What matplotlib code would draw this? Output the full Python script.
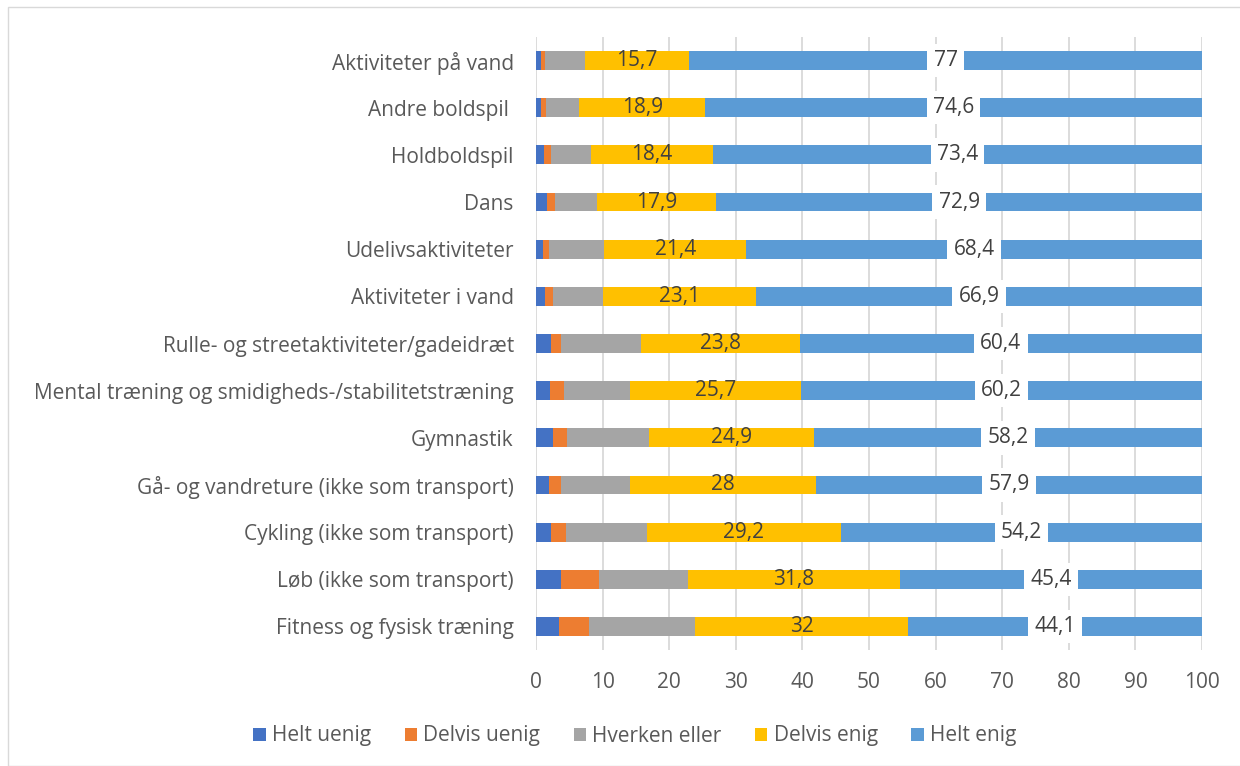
import numpy as np
import matplotlib
matplotlib.use('Agg')
import matplotlib.pyplot as plt
from matplotlib.patches import Rectangle

plt.rcParams['font.family'] = ['Open Sans', 'DejaVu Sans']

categories = [
    'Aktiviteter på vand',
    'Andre boldspil ',
    'Holdboldspil',
    'Dans',
    'Udelivsaktiviteter',
    'Aktiviteter i vand',
    'Rulle- og streetaktiviteter/gadeidræt',
    'Mental træning og smidigheds-/stabilitetstræning',
    'Gymnastik',
    'Gå- og vandreture (ikke som transport)',
    'Cykling (ikke som transport)',
    'Løb (ikke som transport)',
    'Fitness og fysisk træning',
]

helt_uenig = [0.8, 0.8, 1.2, 1.6, 1.0, 1.3, 2.3, 2.1, 2.6, 2.0, 2.3, 3.7, 3.4]
delvis_uenig = [0.6, 0.7, 1.1, 1.2, 1.0, 1.2, 1.5, 2.1, 2.1, 1.8, 2.2, 5.7, 4.6]
hverken = [5.9, 5.0, 5.9, 6.4, 8.2, 7.5, 12.0, 9.9, 12.2, 10.3, 12.1, 13.4, 15.9]
delvis_enig = [15.7, 18.9, 18.4, 17.9, 21.4, 23.1, 23.8, 25.7, 24.9, 28, 29.2, 31.8, 32]
helt_enig = [77, 74.6, 73.4, 72.9, 68.4, 66.9, 60.4, 60.2, 58.2, 57.9, 54.2, 45.4, 44.1]

series_names = ['Helt uenig', 'Delvis uenig', 'Hverken eller', 'Delvis enig', 'Helt enig']
series = [helt_uenig, delvis_uenig, hverken, delvis_enig, helt_enig]
colors = ['#4472c4', '#ed7d31', '#a5a5a5', '#ffc000', '#5b9bd5']

fig = plt.figure(figsize=(12.4, 7.66), dpi=100)
fig.patches.append(Rectangle((8 / 1240, 0), 1.0, 1 - 7 / 766, transform=fig.transFigure,
                             fill=False, edgecolor='#d9d9d9', linewidth=1))
ax = fig.add_axes([536 / 1240, 1 - 650 / 766, 666 / 1240, 613 / 766])

y = np.arange(len(categories))
left = np.zeros(len(categories))
for name, vals, c in zip(series_names, series, colors):
    vals = np.array(vals, dtype=float)
    ax.barh(y, vals, left=left, height=0.4, color=c, label=name, zorder=2)
    if name == 'Delvis enig':
        for yi, l, v in zip(y, left, vals):
            ax.text(l + v / 2, yi, f'{v:g}'.replace('.', ','), ha='center', va='center',
                    fontsize=15, color='#404040', zorder=4)
    if name == 'Helt enig':
        for yi, l, v in zip(y, left, vals):
            ax.text(l + v / 2, yi, f'{v:g}'.replace('.', ','), ha='center', va='center',
                    fontsize=15, color='#404040', zorder=4,
                    bbox=dict(boxstyle='square,pad=0.3', fc='white', ec='none'))
    left += vals

ax.set_xlim(0, 100)
ax.set_ylim(len(categories) - 0.5, -0.5)
ax.set_xticks(range(0, 101, 10))
ax.set_yticks(y)
ax.set_yticklabels(categories)
ax.xaxis.grid(True, color='#d9d9d9', linewidth=1.3, zorder=0)
ax.set_axisbelow(True)
for s in ax.spines.values():
    s.set_visible(False)
ax.tick_params(axis='both', length=0, labelsize=15, colors='#595959')
ax.tick_params(axis='x', pad=16)
ax.tick_params(axis='y', pad=16)

fig.legend(loc='center', bbox_to_anchor=(0.512, 1 - 736 / 766), ncol=5, frameon=False,
           fontsize=15, handlelength=0.6, handleheight=0.6, handletextpad=0.3,
           columnspacing=1.6, labelcolor='#595959')

fig.savefig('out.png', dpi=100)
